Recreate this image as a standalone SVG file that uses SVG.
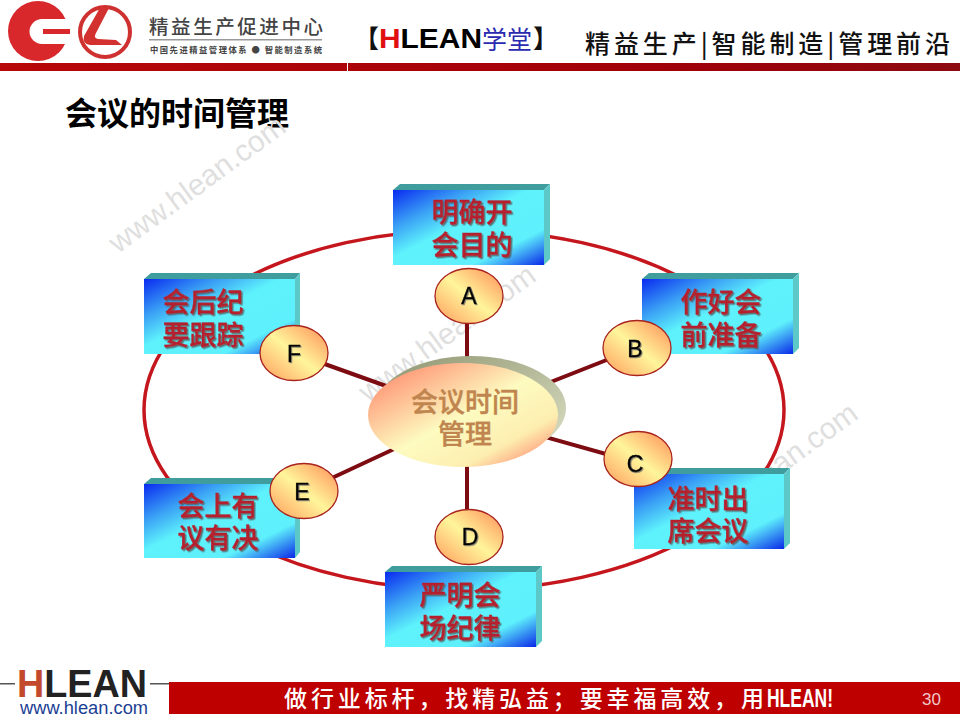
<svg xmlns="http://www.w3.org/2000/svg" width="960" height="720" viewBox="0 0 960 720">
<style>
.cjk{font-family:"Noto Sans CJK SC","Liberation Sans",sans-serif}
.lbl{font-family:"Noto Sans CJK SC",sans-serif;font-size:27px;font-weight:500;fill:#b5202e;stroke:#b5202e;stroke-width:.35;text-anchor:middle;filter:url(#ts)}
.mid{font-family:"Noto Sans CJK SC",sans-serif;font-size:27px;font-weight:500;fill:#c0854e;stroke:#c0854e;stroke-width:.4;text-anchor:middle}
.let{font-family:"Liberation Sans",sans-serif;font-size:23px;fill:#000;stroke:#000;stroke-width:.4;text-anchor:middle;filter:url(#ts2)}
.wm{font-family:"Liberation Sans",sans-serif;font-size:30px;fill:#dfdfdf}
.front{fill:url(#bg)}.top{fill:#3f9d9d}.side{fill:#5cc8c8}
.bub{fill:url(#yg);stroke:#a8231e;stroke-width:1.3}
.spoke{stroke:#7d0c12;stroke-width:4;fill:none}
</style>
<defs>
<linearGradient id="bg" x1="0" y1="0" x2="1" y2="1"><stop offset="0" stop-color="#0a2af0"/><stop offset=".25" stop-color="#3aa0f5"/><stop offset=".45" stop-color="#5ef2fc"/><stop offset=".76" stop-color="#5ef0fc"/><stop offset="1" stop-color="#0a28e8"/></linearGradient>
<linearGradient id="yg" x1="0" y1="1" x2="1" y2="0"><stop offset="0" stop-color="#ff9a5c"/><stop offset=".5" stop-color="#fff59a"/><stop offset="1" stop-color="#ff8a55"/></linearGradient>
<linearGradient id="cg" x1="0" y1="0" x2="1" y2="1"><stop offset="0" stop-color="#ff7a62"/><stop offset=".5" stop-color="#fdfbc0"/><stop offset=".75" stop-color="#fdeeb0"/><stop offset="1" stop-color="#ff6a5a"/></linearGradient>
<linearGradient id="sh" x1="0" y1="0" x2="1" y2="1"><stop offset="0" stop-color="#8f9470"/><stop offset="1" stop-color="#dfe3c8"/></linearGradient>
<linearGradient id="hb" x1="0" y1="0" x2="1" y2="0"><stop offset="0" stop-color="#b80808"/><stop offset=".7" stop-color="#a00008"/><stop offset="1" stop-color="#8c0a10"/></linearGradient>
<filter id="ts" x="-10%" y="-10%" width="120%" height="130%"><feDropShadow dx="1.5" dy="1.5" stdDeviation=".6" flood-color="#555" flood-opacity=".8"/></filter>
<filter id="ts2" x="-20%" y="-20%" width="150%" height="150%"><feDropShadow dx="1" dy="1" stdDeviation=".5" flood-color="#666" flood-opacity=".7"/></filter>
</defs>
<rect width="960" height="720" fill="#fff"/>
<g id="header">
<circle cx="38" cy="31" r="30" fill="#d8282c"/>
<path d="M70 19H42a12.5 12.5 0 0 0 0 25H70Z" fill="#fff"/>
<rect x="43" y="29" width="27" height="5" fill="#d8282c"/>
<circle cx="105" cy="32" r="25" fill="#fff" stroke="#cf3030" stroke-width="4"/>
<path d="M101 6 L84 36 Q82 44 90 45 L122 45 L116 40 L98 39 Q93 38 96 33 L109 8Z" fill="#d33030"/>
<text x="149" y="34" class="cjk" font-size="19.5" fill="#444" font-weight="500" textLength="174">精益生产促进中心</text>
<rect x="149" y="39" width="173" height="1.5" fill="#999"/>
<text x="150" y="53" class="cjk" font-size="8.3" fill="#444" font-weight="700" textLength="172">中国先进精益管理体系 ● 智能制造系统</text>
<rect x="0" y="63" width="960" height="8" fill="url(#hb)"/>
<rect x="347" y="63" width="1" height="8" fill="#fff"/>
<text x="354" y="48" class="cjk" font-size="25" font-weight="700" fill="#111">【</text>
<text x="379" y="48" font-family="Liberation Sans,sans-serif" font-size="27" font-weight="700" textLength="103" lengthAdjust="spacingAndGlyphs"><tspan fill="#e01010">H</tspan><tspan fill="#000">LEAN</tspan></text>
<text x="482" y="49" class="cjk" font-size="25" fill="#2a2ab0">学堂</text>
<text x="533" y="48" class="cjk" font-size="25" font-weight="700" fill="#111">】</text>
<text x="585" y="53" class="cjk" font-size="25" fill="#111" font-weight="500" textLength="365">精益生产|智能制造|管理前沿</text>
</g>
<text id="title" x="65" y="125" class="cjk" font-size="32" font-weight="700" fill="#000" textLength="224">会议的时间管理</text>
<g id="watermarks">
<text class="wm" transform="translate(118,254) rotate(-36)">www.hlean.com</text>
<text class="wm" transform="translate(368,403) rotate(-36)">www.hlean.com</text>
<text class="wm" transform="translate(690,541) rotate(-36)">www.hlean.com</text>
</g>
<g id="connectors">
<ellipse cx="464" cy="410" rx="320" ry="180" fill="none" stroke="#c4161c" stroke-width="3.5"/>
<path class="spoke" d="M467 415V300M467 415L637 348M467 415L638 463M467 415V537M467 415L304 491M467 415L294 353"/>
</g>
<g id="node-center">
<ellipse cx="471" cy="408" rx="95" ry="52" fill="url(#sh)"/>
<ellipse cx="463" cy="415" rx="95" ry="52" fill="url(#cg)"/>
<text x="465" y="412" class="mid">会议时间</text>
<text x="465" y="444" class="mid">管理</text>
</g>
<g id="node-top">
<path class="top" d="M393 190l7-6H550l-6 6Z"/><path class="side" d="M544 190l6-6V259l-6 6Z"/><rect class="front" x="393" y="190" width="151" height="75"/>
<text x="472" y="222" class="lbl">明确开</text><text x="472" y="255" class="lbl">会目的</text>
</g>
<g id="node-ul">
<path class="top" d="M144 279l7-6H300l-5 6Z"/><path class="side" d="M295 279l5-6V348l-5 6Z"/><rect class="front" x="144" y="279" width="151" height="75"/>
<text x="203" y="312" class="lbl">会后纪</text><text x="203" y="345" class="lbl">要跟踪</text>
</g>
<g id="node-ur">
<path class="top" d="M642 279l7-6H799l-6 6Z"/><path class="side" d="M793 279l6-6V348l-6 6Z"/><rect class="front" x="642" y="279" width="151" height="75"/>
<text x="721" y="312" class="lbl">作好会</text><text x="721" y="345" class="lbl">前准备</text>
</g>
<g id="node-lr">
<path class="top" d="M634 474l7-6H790l-6 6Z"/><path class="side" d="M784 474l6-6V543l-6 6Z"/><rect class="front" x="634" y="474" width="150" height="75"/>
<text x="708" y="509" class="lbl">准时出</text><text x="708" y="541" class="lbl">席会议</text>
</g>
<g id="node-ll">
<path class="top" d="M144 484l7-6H300l-5 6Z"/><path class="side" d="M295 484l5-6V552l-5 6Z"/><rect class="front" x="144" y="484" width="151" height="74"/>
<text x="218" y="516" class="lbl">会上有</text><text x="218" y="548" class="lbl">议有决</text>
</g>
<g id="node-bottom">
<path class="top" d="M385 572l7-6H542l-6 6Z"/><path class="side" d="M536 572l6-6V641l-6 6Z"/><rect class="front" x="385" y="572" width="151" height="75"/>
<text x="460" y="605" class="lbl">严明会</text><text x="460" y="638" class="lbl">场纪律</text>
</g>
<g id="node-A"><ellipse class="bub" cx="469" cy="296" rx="34" ry="27.5"/><text class="let" x="469" y="304">A</text></g>
<g id="node-B"><ellipse class="bub" cx="637" cy="348" rx="34" ry="27.5"/><text class="let" x="635" y="357">B</text></g>
<g id="node-C"><ellipse class="bub" cx="638" cy="459" rx="34" ry="27.5"/><text class="let" x="635" y="472">C</text></g>
<g id="node-D"><ellipse class="bub" cx="469" cy="537" rx="34" ry="27.5"/><text class="let" x="470" y="545">D</text></g>
<g id="node-E"><ellipse class="bub" cx="304" cy="491" rx="34" ry="27.5"/><text class="let" x="302" y="500">E</text></g>
<g id="node-F"><ellipse class="bub" cx="294" cy="353" rx="34" ry="27.5"/><text class="let" x="294" y="362">F</text></g>
<g id="footer">
<rect x="169" y="682" width="791" height="32" fill="#bf0000"/>
<rect x="0" y="683" width="15" height="1.5" fill="#555"/><rect x="150" y="683" width="19" height="1.5" fill="#555"/>
<text x="17" y="697" font-family="Liberation Sans,sans-serif" font-size="39" font-weight="700" fill="#222" textLength="130" lengthAdjust="spacingAndGlyphs"><tspan fill="#c2492c">H</tspan>LEAN</text>
<text x="20" y="714" font-family="Liberation Sans,sans-serif" font-size="18.3" fill="#1c3f94">www.hlean.com</text>
<text x="284" y="707" class="cjk" font-size="23" font-weight="500" fill="#fff" textLength="480">做行业标杆，找精弘益；要幸福高效，用</text>
<text x="767" y="707" font-family="Liberation Sans,sans-serif" font-size="25" font-weight="700" fill="#fff" textLength="66" lengthAdjust="spacingAndGlyphs">HLEAN!</text>
<text x="922" y="705" font-family="Liberation Sans,sans-serif" font-size="17" fill="#f0c8c8">30</text>
</g>
</svg>
